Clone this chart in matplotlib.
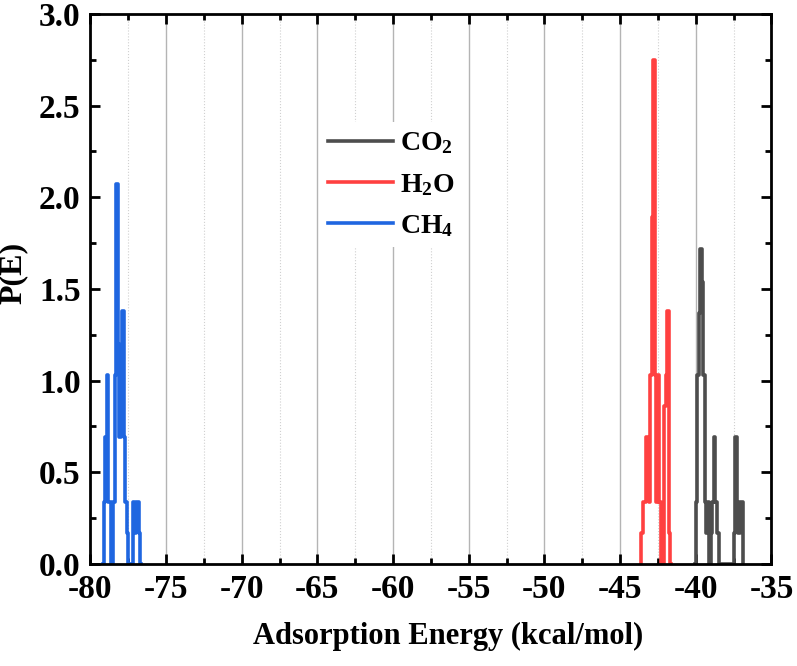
import numpy as np
import matplotlib.pyplot as plt
from matplotlib.ticker import MultipleLocator

# bin centres (kcal/mol) and P(E) values
co2_e = [-40.05, -39.95, -39.85, -39.75, -39.65, -39.55, -39.45, -39.35, -39.25,
         -39.15, -39.05, -38.95, -38.85, -38.75, -38.65, -38.55, -38.45,
         -37.55, -37.45, -37.35, -37.25, -37.15, -37.05, -36.95, -36.85]
co2_p = [0.0, 0.34, 1.03, 1.37, 1.72, 1.54, 1.03, 0.34, 0.17,
         0.34, 0.0, 0.17, 0.34, 0.69, 0.34, 0.17, 0.0,
         0.0, 0.17, 0.69, 0.34, 0.17, 0.34, 0.34, 0.0]

h2o_e = [-43.65, -43.55, -43.45, -43.35, -43.25, -43.15, -43.05, -42.95, -42.85,
         -42.75, -42.65, -42.55, -42.45, -42.35, -42.25, -42.15, -42.05, -41.95,
         -41.85, -41.75, -41.65]
h2o_p = [0.0, 0.17, 0.34, 0.34, 0.69, 0.69, 0.34, 1.03, 1.89,
         2.75, 1.03, 0.34, 1.03, 0.34, 0.0, 0.0, 0.86, 1.03,
         1.38, 0.17, 0.0]

ch4_e = [-79.15, -79.05, -78.95, -78.85, -78.75, -78.65, -78.55, -78.45, -78.35,
         -78.25, -78.15, -78.05, -77.95, -77.85, -77.75, -77.65, -77.55, -77.45,
         -77.35, -77.25, -77.15, -77.05, -76.95, -76.85, -76.75, -76.65]
ch4_p = [0.0, 0.34, 0.69, 1.03, 0.34, 0.34, 0.0, 0.34, 1.03,
         2.07, 1.2, 0.69, 1.03, 1.38, 0.69, 0.34, 0.17, 0.0,
         0.0, 0.0, 0.34, 0.17, 0.34, 0.34, 0.17, 0.0]

plt.rcParams['font.family'] = ['Liberation Serif', 'DejaVu Serif']
plt.rcParams['font.weight'] = 'bold'
plt.rcParams['mathtext.fontset'] = 'custom'
plt.rcParams['mathtext.rm'] = 'Liberation Serif:bold'
plt.rcParams['mathtext.it'] = 'Liberation Serif:bold'
plt.rcParams['mathtext.bf'] = 'Liberation Serif:bold'
plt.rcParams['axes.unicode_minus'] = False

fig = plt.figure(figsize=(7.97, 6.66), dpi=100)
ax = fig.add_axes([0.1133, 0.1532, 0.8547, 0.8258])

ax.step(co2_e, co2_p, where='mid', color='#4d4d4d', lw=2.6, label='CO$_2$')
ax.step(h2o_e, h2o_p, where='mid', color='#ff4040', lw=2.6, label='H$_2$O')
ax.step(ch4_e, ch4_p, where='mid', color='#1f66e0', lw=2.6, label='CH$_4$')

ax.set_xlim(-80, -35)
ax.set_ylim(0, 3.0)
ax.xaxis.set_major_locator(MultipleLocator(5))
ax.xaxis.set_minor_locator(MultipleLocator(2.5))
ax.yaxis.set_major_locator(MultipleLocator(0.5))
ax.yaxis.set_minor_locator(MultipleLocator(0.25))

ax.grid(True, which='major', axis='x', color='#b4b4b4', lw=1.0, ls='-')
ax.grid(True, which='minor', axis='x', color='#d0d0d0', lw=0.8, ls=':')
ax.set_axisbelow(True)

for s in ax.spines.values():
    s.set_linewidth(2.0)
ax.tick_params(which='both', direction='in', top=True, right=True, width=2.0)
ax.tick_params(which='major', length=7, labelsize=24, pad=7)
ax.tick_params(which='minor', length=4.5)
for lab in ax.get_xticklabels() + ax.get_yticklabels():
    lab.set_fontweight('bold')

ax.set_xlabel('Adsorption Energy (kcal/mol)', fontsize=22, fontweight='bold')
ax.xaxis.set_label_coords(0.525, -0.106)
ax.set_ylabel('P(E)', fontsize=23, fontweight='bold')
ax.yaxis.set_label_coords(-0.092, 0.53)

leg = ax.legend(loc='upper left', bbox_to_anchor=(0.336, 0.803), fontsize=20,
                frameon=True, handlelength=2.35, handletextpad=0.25,
                labelspacing=0.55, borderpad=0.3, borderaxespad=0)
leg.get_frame().set_edgecolor('none')
leg.get_frame().set_facecolor('white')
leg.get_frame().set_alpha(1.0)

fig.savefig('out.png', dpi=100)
